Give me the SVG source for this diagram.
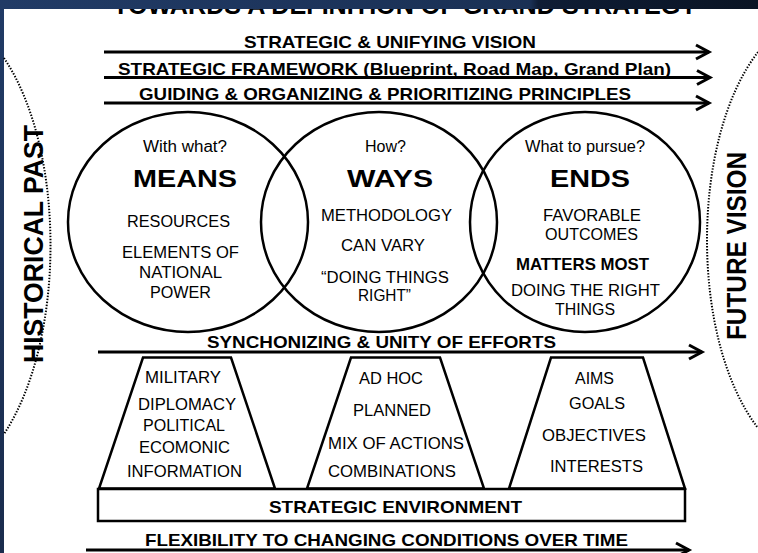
<svg xmlns="http://www.w3.org/2000/svg" width="758" height="553" viewBox="0 0 758 553">
<defs>
<linearGradient id="band" x1="0" y1="0" x2="1" y2="0">
<stop offset="0" stop-color="#213b66"/>
<stop offset="0.7" stop-color="#1a3054"/>
<stop offset="0.71" stop-color="#0f1d35"/>
<stop offset="1" stop-color="#0a1424"/>
</linearGradient>
<linearGradient id="side" x1="0" y1="0" x2="0" y2="1">
<stop offset="0" stop-color="#213b66"/>
<stop offset="1" stop-color="#1a2c4d"/>
</linearGradient>
<marker id="arr" markerUnits="userSpaceOnUse" markerWidth="24" markerHeight="24" viewBox="0 0 24 24" refX="17" refY="12" orient="auto" overflow="visible">
<path d="M4,5 L17,12 L4,19" fill="none" stroke="#000" stroke-width="3"/>
</marker>
</defs>
<style>
text{font-family:"Liberation Sans",Arial,sans-serif;fill:#000}
.b{font-weight:bold}
.r{font-size:16px}
.h{font-size:17px;font-weight:bold}
.big{font-size:24px;font-weight:bold}
.shape{fill:none;stroke:#000;stroke-width:2.5}
.dot{fill:none;stroke:#000;stroke-width:2;stroke-dasharray:1.4 1.6}
.line{fill:none;stroke:#000;stroke-width:3;marker-end:url(#arr)}
</style>
<rect x="0" y="0" width="758" height="553" fill="#ffffff"/>
<text class="b" x="113" y="14" font-size="25" textLength="584" lengthAdjust="spacingAndGlyphs">TOWARDS A DEFINITION OF GRAND STRATEGY</text>
<rect x="0" y="0" width="758" height="9" fill="url(#band)"/>
<rect x="0" y="0" width="4" height="553" fill="url(#side)"/>

<g id="connectors">
<path class="line" d="M104,52 H709"/>
<path class="line" d="M104,77.5 H710"/>
<path class="line" d="M104,103 H709"/>
<path class="line" d="M98,352 H702"/>
<path class="line" d="M86,550 H689"/>
</g>

<g id="labels-top">
<text class="h" x="244" y="48" textLength="292" lengthAdjust="spacingAndGlyphs">STRATEGIC &amp; UNIFYING VISION</text>
<text class="h" x="118" y="75" textLength="553" lengthAdjust="spacingAndGlyphs">STRATEGIC FRAMEWORK (Blueprint, Road Map, Grand Plan)</text>
<text class="h" x="139" y="100" textLength="492" lengthAdjust="spacingAndGlyphs">GUIDING &amp; ORGANIZING &amp; PRIORITIZING PRINCIPLES</text>
<text class="h" x="207" y="348" textLength="349" lengthAdjust="spacingAndGlyphs">SYNCHONIZING &amp; UNITY OF EFFORTS</text>
<text class="h" x="145" y="546" textLength="483" lengthAdjust="spacingAndGlyphs">FLEXIBILITY TO CHANGING CONDITIONS OVER TIME</text>
</g>

<g id="historical-past">
<path class="dot" d="M4,58 C66,150 66,340 4,434"/>
<text class="b" font-size="28" transform="translate(42.5,363) rotate(-90)" textLength="238" lengthAdjust="spacingAndGlyphs">HISTORICAL PAST</text>
</g>

<g id="future-vision">
<path class="dot" d="M758,52 C690,140 690,340 758,428"/>
<text class="b" font-size="28" transform="translate(746,340) rotate(-90)" textLength="188" lengthAdjust="spacingAndGlyphs">FUTURE VISION</text>
</g>

<g id="means">
<ellipse class="shape" cx="188" cy="222" rx="120" ry="110"/>
<text class="r" x="143" y="151.5" textLength="84" lengthAdjust="spacingAndGlyphs">With what?</text>
<text class="big" x="133" y="187" textLength="104" lengthAdjust="spacingAndGlyphs">MEANS</text>
<text class="r" x="127" y="227" textLength="103" lengthAdjust="spacingAndGlyphs">RESOURCES</text>
<text class="r" x="122" y="258" textLength="117" lengthAdjust="spacingAndGlyphs">ELEMENTS OF</text>
<text class="r" x="139" y="278" textLength="83" lengthAdjust="spacingAndGlyphs">NATIONAL</text>
<text class="r" x="150" y="298" textLength="61" lengthAdjust="spacingAndGlyphs">POWER</text>
</g>

<g id="ways">
<ellipse class="shape" cx="379" cy="222" rx="118" ry="110"/>
<text class="r" x="365" y="151.5" textLength="41" lengthAdjust="spacingAndGlyphs">How?</text>
<text class="big" x="347" y="187" textLength="86" lengthAdjust="spacingAndGlyphs">WAYS</text>
<text class="r" x="321" y="221" textLength="131" lengthAdjust="spacingAndGlyphs">METHODOLOGY</text>
<text class="r" x="341" y="251" textLength="84" lengthAdjust="spacingAndGlyphs">CAN VARY</text>
<text class="r" x="321" y="283" textLength="128" lengthAdjust="spacingAndGlyphs">“DOING THINGS</text>
<text class="r" x="358" y="301" textLength="53" lengthAdjust="spacingAndGlyphs">RIGHT”</text>
</g>

<g id="ends">
<ellipse class="shape" cx="585" cy="222" rx="115" ry="110"/>
<text class="r" x="525" y="151.5" textLength="120" lengthAdjust="spacingAndGlyphs">What to pursue?</text>
<text class="big" x="550" y="187" textLength="80" lengthAdjust="spacingAndGlyphs">ENDS</text>
<text class="r" x="543" y="221" textLength="98" lengthAdjust="spacingAndGlyphs">FAVORABLE</text>
<text class="r" x="545" y="240" textLength="93" lengthAdjust="spacingAndGlyphs">OUTCOMES</text>
<text class="h" x="516" y="270" textLength="133" lengthAdjust="spacingAndGlyphs">MATTERS MOST</text>
<text class="r" x="511" y="296" textLength="149" lengthAdjust="spacingAndGlyphs">DOING THE RIGHT</text>
<text class="r" x="555" y="315" textLength="60" lengthAdjust="spacingAndGlyphs">THINGS</text>
</g>

<g id="instruments">
<path class="shape" d="M143,357.5 H231 L275,488.5 H99 Z"/>
<text class="r" x="145" y="383" textLength="76" lengthAdjust="spacingAndGlyphs">MILITARY</text>
<text class="r" x="138" y="410" textLength="98" lengthAdjust="spacingAndGlyphs">DIPLOMACY</text>
<text class="r" x="143" y="431" textLength="82" lengthAdjust="spacingAndGlyphs">POLITICAL</text>
<text class="r" x="139" y="453" textLength="91" lengthAdjust="spacingAndGlyphs">ECOMONIC</text>
<text class="r" x="127" y="477" textLength="115" lengthAdjust="spacingAndGlyphs">INFORMATION</text>
</g>

<g id="approaches">
<path class="shape" d="M351,357.5 H440 L484,488.5 H307 Z"/>
<text class="r" x="359" y="384" textLength="64" lengthAdjust="spacingAndGlyphs">AD HOC</text>
<text class="r" x="353" y="416" textLength="78" lengthAdjust="spacingAndGlyphs">PLANNED</text>
<text class="r" x="328" y="449" textLength="136" lengthAdjust="spacingAndGlyphs">MIX OF ACTIONS</text>
<text class="r" x="328" y="477" textLength="128" lengthAdjust="spacingAndGlyphs">COMBINATIONS</text>
</g>

<g id="objectives">
<path class="shape" d="M551,357.5 H643 L685,488.5 H509 Z"/>
<text class="r" x="575" y="384" textLength="39" lengthAdjust="spacingAndGlyphs">AIMS</text>
<text class="r" x="569" y="409" textLength="56" lengthAdjust="spacingAndGlyphs">GOALS</text>
<text class="r" x="542" y="441" textLength="104" lengthAdjust="spacingAndGlyphs">OBJECTIVES</text>
<text class="r" x="550" y="472" textLength="93" lengthAdjust="spacingAndGlyphs">INTERESTS</text>
</g>

<g id="strategic-environment">
<rect class="shape" x="98" y="489" width="587" height="32"/>
<text class="h" x="269" y="512.5" textLength="253" lengthAdjust="spacingAndGlyphs">STRATEGIC ENVIRONMENT</text>
</g>
</svg>
